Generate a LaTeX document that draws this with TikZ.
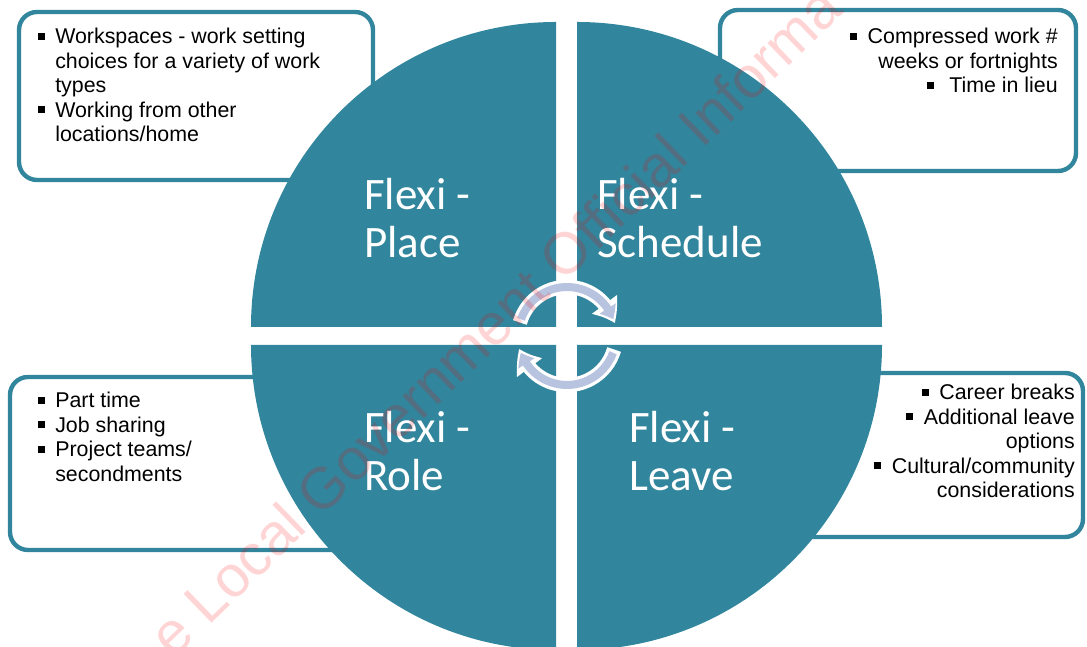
\documentclass[tikz,border=0pt]{standalone}
\usepackage{fontspec}
\setmainfont{Liberation Sans}
\newfontfamily\labelfont{Carlito}
\usetikzlibrary{arrows.meta,bending}

\definecolor{flexiteal}{HTML}{31859C}
\definecolor{cyclelilac}{HTML}{B8C4DF}

% square bullets for the lists
\newcommand{\sqbul}{\rule[1mm]{1.7mm}{1.7mm}}
\newcommand{\lbul}{\makebox[4.25mm][l]{\sqbul}}
\newcommand{\lind}{\hspace*{4.25mm}}

\begin{document}
\begin{tikzpicture}[x=0.25mm,y=0.25mm,
  listbox/.style={draw=flexiteal,line width=1.1mm,fill=white,rounded corners=4.5mm},
  quarter/.style={fill=flexiteal},
  flexlabel/.style={text=white,font=\labelfont\fontsize{32}{34}\selectfont,
    align=left,anchor=north west,inner sep=0pt},
  listtext/.style={font=\fontsize{15.2}{17.4}\selectfont,inner sep=0pt}]
  \useasboundingbox (0,0) rectangle (1087,647);

  % option boxes, partly hidden by the circle
  \draw[listbox] (19,467) rectangle (373,635);
  \draw[listbox] (720,476) rectangle (1076,637);
  \draw[listbox] (10,97) rectangle (420,270);
  \draw[listbox] (700,110) rectangle (1083,274);

  % four quarters
  \fill[quarter] (556,320) -- (251,320) arc[start angle=180,end angle=90,radius=305] -- cycle;
  \fill[quarter] (577,320) -- (577,625) arc[start angle=90,end angle=0,radius=305] -- cycle;
  \fill[quarter] (556,302) -- (556,-3) arc[start angle=270,end angle=180,radius=305] -- cycle;
  \fill[quarter] (577,302) -- (882,302) arc[start angle=0,end angle=-90,radius=305] -- cycle;

  % cycle arrows in the middle
  \coordinate (hub) at (567,311);
  \draw[white,line width=3.6mm,-{Triangle[length=5.4mm,width=7.4mm,bend]}]
    (hub) ++(164:49) arc[start angle=164,end angle=15,radius=49];
  \draw[cyclelilac,line width=2mm,-{Triangle[length=3mm,width=4.6mm,bend]}]
    (hub) ++(160:49) arc[start angle=160,end angle=20,radius=49];
  \draw[white,line width=3.6mm,-{Triangle[length=5.4mm,width=7.4mm,bend]}]
    (hub) ++(-16:49) arc[start angle=-16,end angle=-165,radius=49];
  \draw[cyclelilac,line width=2mm,-{Triangle[length=3mm,width=4.6mm,bend]}]
    (hub) ++(-20:49) arc[start angle=-20,end angle=-160,radius=49];

  \node[flexlabel] (place) at (364,469) {Flexi -\\Place};
  \node[flexlabel] (sched) at (597,469) {Flexi -\\Schedule};
  \node[flexlabel] (role) at (364,236) {Flexi -\\Role};
  \node[flexlabel] (leave) at (629,236) {Flexi -\\Leave};

  \node[listtext,align=left,anchor=north west] (placelist) at (38,619)
    {\lbul Workspaces - work setting\\ \lind choices for a variety of work\\
     \lind types\\ \lbul Working from other\\ \lind locations/home};
  \node[listtext,align=right,anchor=north east] (schedlist) at (1058,619)
    {\sqbul\hspace{2.7mm}Compressed work \#\\ weeks or fortnights\\
     \sqbul\hspace{3.9mm}Time in lieu};
  \node[listtext,align=left,anchor=north west] (rolelist) at (38,255)
    {\lbul Part time\\ \lbul Job sharing\\ \lbul Project teams/\\ \lind secondments};
  \node[listtext,align=right,anchor=north east] (leavelist) at (1075,263)
    {\sqbul\hspace{2.7mm}Career breaks\\ \sqbul\hspace{2.7mm}Additional leave\\
     options\\ \sqbul\hspace{2.7mm}Cultural/community\\ considerations};

  % faint stamp across the page
  \begin{scope}
    \clip (0,0) rectangle (1087,647);
    \node[rotate=44,text=red,opacity=0.17,inner sep=0pt,
      font=\fontsize{41.5}{41.5}\selectfont] (stamp) at (495,326)
      {e Local Government Official Informa};
  \end{scope}
\end{tikzpicture}
\end{document}
